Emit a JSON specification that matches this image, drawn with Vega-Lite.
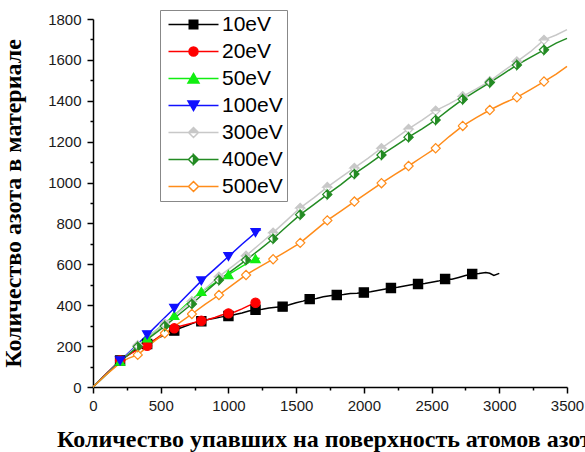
{
  "$schema": "https://vega.github.io/schema/vega-lite/v6.json",
  "width": 474,
  "height": 368,
  "autosize": {"type": "none"},
  "padding": {"left": 93, "top": 19, "right": 18, "bottom": 65},
  "background": "white",
  "config": {
    "view": {"stroke": null},
    "axis": {"grid": false, "format": "d", "labelFont": "Liberation Sans", "labelFontSize": 15, "labelColor": "#1a1a1a", "domainColor": "#000000", "domainWidth": 1.5, "tickColor": "#000000", "tickWidth": 1.5, "titleFont": "Liberation Serif", "titleFontWeight": "bold", "titleFontSize": 24, "titleColor": "#000000"}
  },
  "datasets": {
    "d": [
      {"s":"10eV","x":0,"y":0,"m":0},{"s":"10eV","x":50,"y":33,"m":0},{"s":"10eV","x":100,"y":66,"m":0},{"s":"10eV","x":150,"y":98,"m":0},{"s":"10eV","x":200,"y":130,"m":1},{"s":"10eV","x":250,"y":152,"m":0},{"s":"10eV","x":300,"y":175,"m":0},{"s":"10eV","x":350,"y":193,"m":0},{"s":"10eV","x":400,"y":210,"m":1},{"s":"10eV","x":450,"y":228,"m":0},{"s":"10eV","x":500,"y":246,"m":0},{"s":"10eV","x":550,"y":262,"m":0},{"s":"10eV","x":600,"y":276,"m":1},{"s":"10eV","x":650,"y":290,"m":0},{"s":"10eV","x":700,"y":302,"m":0},{"s":"10eV","x":750,"y":315,"m":0},{"s":"10eV","x":800,"y":322,"m":1},{"s":"10eV","x":850,"y":330,"m":0},{"s":"10eV","x":900,"y":336,"m":0},{"s":"10eV","x":950,"y":343,"m":0},{"s":"10eV","x":1000,"y":347,"m":1},{"s":"10eV","x":1050,"y":355,"m":0},{"s":"10eV","x":1100,"y":362,"m":0},{"s":"10eV","x":1150,"y":372,"m":0},{"s":"10eV","x":1200,"y":378,"m":1},{"s":"10eV","x":1250,"y":380,"m":0},{"s":"10eV","x":1300,"y":386,"m":0},{"s":"10eV","x":1350,"y":390,"m":0},{"s":"10eV","x":1400,"y":393,"m":1},{"s":"10eV","x":1450,"y":402,"m":0},{"s":"10eV","x":1500,"y":412,"m":0},{"s":"10eV","x":1550,"y":420,"m":0},{"s":"10eV","x":1600,"y":430,"m":1},{"s":"10eV","x":1650,"y":433,"m":0},{"s":"10eV","x":1700,"y":441,"m":0},{"s":"10eV","x":1750,"y":446,"m":0},{"s":"10eV","x":1800,"y":450,"m":1},{"s":"10eV","x":1850,"y":452,"m":0},{"s":"10eV","x":1900,"y":457,"m":0},{"s":"10eV","x":1950,"y":458,"m":0},{"s":"10eV","x":2000,"y":462,"m":1},{"s":"10eV","x":2050,"y":466,"m":0},{"s":"10eV","x":2100,"y":472,"m":0},{"s":"10eV","x":2150,"y":478,"m":0},{"s":"10eV","x":2200,"y":484,"m":1},{"s":"10eV","x":2250,"y":488,"m":0},{"s":"10eV","x":2300,"y":494,"m":0},{"s":"10eV","x":2350,"y":500,"m":0},{"s":"10eV","x":2400,"y":504,"m":1},{"s":"10eV","x":2450,"y":506,"m":0},{"s":"10eV","x":2500,"y":512,"m":0},{"s":"10eV","x":2550,"y":518,"m":0},{"s":"10eV","x":2600,"y":528,"m":1},{"s":"10eV","x":2650,"y":527,"m":0},{"s":"10eV","x":2700,"y":536,"m":0},{"s":"10eV","x":2750,"y":545,"m":0},{"s":"10eV","x":2800,"y":553,"m":1},{"s":"10eV","x":2850,"y":555,"m":0},{"s":"10eV","x":2900,"y":560,"m":0},{"s":"10eV","x":2930,"y":556,"m":0},{"s":"10eV","x":2960,"y":546,"m":0},{"s":"10eV","x":3000,"y":556,"m":0},
      {"s":"20eV","x":0,"y":0,"m":0},{"s":"20eV","x":50,"y":33,"m":0},{"s":"20eV","x":100,"y":66,"m":0},{"s":"20eV","x":150,"y":98,"m":0},{"s":"20eV","x":200,"y":130,"m":1},{"s":"20eV","x":250,"y":152,"m":0},{"s":"20eV","x":300,"y":172,"m":0},{"s":"20eV","x":350,"y":188,"m":0},{"s":"20eV","x":400,"y":202,"m":1},{"s":"20eV","x":450,"y":228,"m":0},{"s":"20eV","x":500,"y":252,"m":0},{"s":"20eV","x":550,"y":272,"m":0},{"s":"20eV","x":600,"y":287,"m":1},{"s":"20eV","x":650,"y":298,"m":0},{"s":"20eV","x":700,"y":307,"m":0},{"s":"20eV","x":750,"y":316,"m":0},{"s":"20eV","x":800,"y":324,"m":1},{"s":"20eV","x":850,"y":330,"m":0},{"s":"20eV","x":900,"y":340,"m":0},{"s":"20eV","x":950,"y":352,"m":0},{"s":"20eV","x":1000,"y":360,"m":1},{"s":"20eV","x":1050,"y":368,"m":0},{"s":"20eV","x":1100,"y":382,"m":0},{"s":"20eV","x":1150,"y":398,"m":0},{"s":"20eV","x":1200,"y":412,"m":1},{"s":"20eV","x":1215,"y":414,"m":0},
      {"s":"50eV","x":0,"y":0,"m":0},{"s":"50eV","x":100,"y":64,"m":0},{"s":"50eV","x":200,"y":126,"m":1},{"s":"50eV","x":300,"y":184,"m":0},{"s":"50eV","x":400,"y":240,"m":1},{"s":"50eV","x":500,"y":295,"m":0},{"s":"50eV","x":600,"y":350,"m":1},{"s":"50eV","x":700,"y":410,"m":0},{"s":"50eV","x":800,"y":467,"m":1},{"s":"50eV","x":900,"y":508,"m":0},{"s":"50eV","x":1000,"y":550,"m":1},{"s":"50eV","x":1100,"y":590,"m":0},{"s":"50eV","x":1200,"y":628,"m":1},{"s":"50eV","x":1230,"y":630,"m":0},
      {"s":"100eV","x":0,"y":0,"m":0},{"s":"100eV","x":100,"y":64,"m":0},{"s":"100eV","x":200,"y":128,"m":1},{"s":"100eV","x":300,"y":190,"m":0},{"s":"100eV","x":400,"y":255,"m":1},{"s":"100eV","x":500,"y":320,"m":0},{"s":"100eV","x":600,"y":385,"m":1},{"s":"100eV","x":700,"y":452,"m":0},{"s":"100eV","x":800,"y":519,"m":1},{"s":"100eV","x":900,"y":578,"m":0},{"s":"100eV","x":1000,"y":638,"m":1},{"s":"100eV","x":1100,"y":698,"m":0},{"s":"100eV","x":1200,"y":755,"m":1},{"s":"100eV","x":1240,"y":770,"m":0},
      {"s":"300eV","x":0,"y":0,"m":0},{"s":"300eV","x":100,"y":62,"m":0},{"s":"300eV","x":200,"y":125,"m":0},{"s":"300eV","x":330,"y":205,"m":1},{"s":"300eV","x":430,"y":258,"m":0},{"s":"300eV","x":530,"y":310,"m":1},{"s":"300eV","x":630,"y":365,"m":0},{"s":"300eV","x":730,"y":420,"m":1},{"s":"300eV","x":830,"y":482,"m":0},{"s":"300eV","x":930,"y":540,"m":1},{"s":"300eV","x":1030,"y":590,"m":0},{"s":"300eV","x":1130,"y":642,"m":1},{"s":"300eV","x":1230,"y":698,"m":0},{"s":"300eV","x":1330,"y":755,"m":1},{"s":"300eV","x":1430,"y":815,"m":0},{"s":"300eV","x":1530,"y":876,"m":1},{"s":"300eV","x":1630,"y":925,"m":0},{"s":"300eV","x":1730,"y":978,"m":1},{"s":"300eV","x":1830,"y":1025,"m":0},{"s":"300eV","x":1930,"y":1072,"m":1},{"s":"300eV","x":2030,"y":1118,"m":0},{"s":"300eV","x":2130,"y":1168,"m":1},{"s":"300eV","x":2230,"y":1215,"m":0},{"s":"300eV","x":2330,"y":1262,"m":1},{"s":"300eV","x":2430,"y":1305,"m":0},{"s":"300eV","x":2530,"y":1352,"m":1},{"s":"300eV","x":2630,"y":1385,"m":0},{"s":"300eV","x":2730,"y":1422,"m":1},{"s":"300eV","x":2830,"y":1458,"m":0},{"s":"300eV","x":2930,"y":1496,"m":1},{"s":"300eV","x":3030,"y":1545,"m":0},{"s":"300eV","x":3130,"y":1592,"m":1},{"s":"300eV","x":3230,"y":1640,"m":0},{"s":"300eV","x":3330,"y":1698,"m":1},{"s":"300eV","x":3420,"y":1722,"m":0},{"s":"300eV","x":3500,"y":1748,"m":0},
      {"s":"400eV","x":0,"y":0,"m":0},{"s":"400eV","x":100,"y":62,"m":0},{"s":"400eV","x":200,"y":125,"m":0},{"s":"400eV","x":330,"y":197,"m":1},{"s":"400eV","x":430,"y":248,"m":0},{"s":"400eV","x":530,"y":298,"m":1},{"s":"400eV","x":630,"y":352,"m":0},{"s":"400eV","x":730,"y":406,"m":1},{"s":"400eV","x":830,"y":465,"m":0},{"s":"400eV","x":930,"y":523,"m":1},{"s":"400eV","x":1030,"y":572,"m":0},{"s":"400eV","x":1130,"y":621,"m":1},{"s":"400eV","x":1230,"y":672,"m":0},{"s":"400eV","x":1330,"y":725,"m":1},{"s":"400eV","x":1430,"y":785,"m":0},{"s":"400eV","x":1530,"y":843,"m":1},{"s":"400eV","x":1630,"y":892,"m":0},{"s":"400eV","x":1730,"y":942,"m":1},{"s":"400eV","x":1830,"y":990,"m":0},{"s":"400eV","x":1930,"y":1042,"m":1},{"s":"400eV","x":2030,"y":1088,"m":0},{"s":"400eV","x":2130,"y":1135,"m":1},{"s":"400eV","x":2230,"y":1178,"m":0},{"s":"400eV","x":2330,"y":1222,"m":1},{"s":"400eV","x":2430,"y":1262,"m":0},{"s":"400eV","x":2530,"y":1306,"m":1},{"s":"400eV","x":2630,"y":1358,"m":0},{"s":"400eV","x":2730,"y":1407,"m":1},{"s":"400eV","x":2830,"y":1448,"m":0},{"s":"400eV","x":2930,"y":1489,"m":1},{"s":"400eV","x":3030,"y":1532,"m":0},{"s":"400eV","x":3130,"y":1575,"m":1},{"s":"400eV","x":3230,"y":1612,"m":0},{"s":"400eV","x":3330,"y":1649,"m":1},{"s":"400eV","x":3420,"y":1682,"m":0},{"s":"400eV","x":3500,"y":1705,"m":0},
      {"s":"500eV","x":0,"y":0,"m":0},{"s":"500eV","x":100,"y":62,"m":0},{"s":"500eV","x":200,"y":118,"m":0},{"s":"500eV","x":260,"y":140,"m":0},{"s":"500eV","x":330,"y":157,"m":1},{"s":"500eV","x":430,"y":212,"m":0},{"s":"500eV","x":530,"y":263,"m":1},{"s":"500eV","x":630,"y":310,"m":0},{"s":"500eV","x":730,"y":357,"m":1},{"s":"500eV","x":830,"y":405,"m":0},{"s":"500eV","x":930,"y":450,"m":1},{"s":"500eV","x":1030,"y":500,"m":0},{"s":"500eV","x":1130,"y":548,"m":1},{"s":"500eV","x":1230,"y":588,"m":0},{"s":"500eV","x":1330,"y":625,"m":1},{"s":"500eV","x":1430,"y":665,"m":0},{"s":"500eV","x":1530,"y":705,"m":1},{"s":"500eV","x":1630,"y":760,"m":0},{"s":"500eV","x":1730,"y":815,"m":1},{"s":"500eV","x":1830,"y":860,"m":0},{"s":"500eV","x":1930,"y":907,"m":1},{"s":"500eV","x":2030,"y":952,"m":0},{"s":"500eV","x":2130,"y":997,"m":1},{"s":"500eV","x":2230,"y":1040,"m":0},{"s":"500eV","x":2330,"y":1081,"m":1},{"s":"500eV","x":2430,"y":1125,"m":0},{"s":"500eV","x":2530,"y":1168,"m":1},{"s":"500eV","x":2630,"y":1225,"m":0},{"s":"500eV","x":2730,"y":1277,"m":1},{"s":"500eV","x":2830,"y":1318,"m":0},{"s":"500eV","x":2930,"y":1355,"m":1},{"s":"500eV","x":3030,"y":1388,"m":0},{"s":"500eV","x":3130,"y":1417,"m":1},{"s":"500eV","x":3230,"y":1455,"m":0},{"s":"500eV","x":3330,"y":1494,"m":1},{"s":"500eV","x":3420,"y":1530,"m":0},{"s":"500eV","x":3500,"y":1568,"m":0}
    ]
  },
  "data": {"name": "d"},
  "resolve": {"axis": {"x": "independent", "y": "independent"}},
  "layer": [
    {
      "mark": {"type": "line", "strokeWidth": 1.5},
      "encoding": {
        "x": {"field": "x", "type": "quantitative", "scale": {"domain": [0, 3500], "nice": false, "zero": false},
          "axis": {"orient": "bottom", "values": [0,500,1000,1500,2000,2500,3000,3500], "tickSize": 6, "labelPadding": 5, "labelFlush": false, "title": "Количество упавших на поверхность атомов азота", "titlePadding": 14}},
        "y": {"field": "y", "type": "quantitative", "scale": {"domain": [0, 1800], "nice": false},
          "axis": {"orient": "left", "values": [0,200,400,600,800,1000,1200,1400,1600,1800], "tickSize": 6, "labelPadding": 6, "labelFlush": false, "title": "Количество азота в материале", "titlePadding": 22}},
        "color": {"field": "s", "type": "nominal",
          "legend": {
            "orient": "none", "legendX": 67, "legendY": -9, "title": null,
            "strokeColor": "#888888", "fillColor": "white", "padding": 4, "rowPadding": 5,
            "labelFont": "Liberation Sans", "labelFontSize": 21, "labelColor": "#000000",
            "symbolSize": 100, "symbolStrokeWidth": 1.5, "labelOffset": 37,
            "encode": {"symbols": {"update": {
              "shape": {"signal": "datum.value === '10eV' ? 'M-1.2,0H8.8M2.95,-0.85H4.65V0.85H2.95Z' : datum.value === '20eV' ? 'M-1.2,0H8.8M2.9,0A0.9,0.9 0 1,0 4.7,0A0.9,0.9 0 1,0 2.9,0Z' : datum.value === '50eV' ? 'M-1.2,0H8.8M3.8,-1L4.9,0.9H2.7Z' : datum.value === '100eV' ? 'M-1.2,0H8.8M2.7,-0.9H4.9L3.8,1Z' : datum.value === '300eV' ? 'M-1.2,0H2.8M4.8,0H8.8M2.8,0L3.8,-1L4.8,0ZM2.8,0L3.8,1L4.8,0L3.8,1Z' : datum.value === '400eV' ? 'M-1.2,0H2.8M4.8,0H8.8M3.8,-1L4.8,0L3.8,1ZM3.8,-1L2.8,0L3.8,1L2.8,0Z' : 'M-1.2,0H2.8M4.8,0H8.8M2.8,0L3.8,-1L4.8,0L3.8,1Z'"},
              "fill": {"signal": "datum.value === '500eV' ? 'white' : scale('color', datum.value)"},
              "stroke": {"signal": "scale('color', datum.value)"},
              "strokeWidth": {"value": 1.5},
              "opacity": {"value": 1}
            }}}
          },
          "scale": {"domain": ["10eV","20eV","50eV","100eV","300eV","400eV","500eV"], "range": ["#000000","#ff0000","#11ee11","#1010ff","#c8c8c8","#238b23","#ff8c1a"]}}
      }
    },
    {
      "transform": [{"filter": "datum.m == 1 && (datum.s == '300eV' || datum.s == '400eV' || datum.s == '500eV')"}],
      "mark": {"type": "point", "shape": "diamond", "filled": true, "fill": "white", "opacity": 1, "size": 85},
      "encoding": {
        "x": {"field": "x", "type": "quantitative", "axis": {"orient": "bottom", "values": [250,750,1250,1750,2250,2750,3250], "labels": false, "domain": false, "tickSize": 3, "title": null}},
        "y": {"field": "y", "type": "quantitative", "axis": {"orient": "left", "values": [100,300,500,700,900,1100,1300,1500,1700], "labels": false, "domain": false, "tickSize": 3, "title": null}}
      }
    },
    {
      "transform": [{"filter": "datum.m == 1"}],
      "mark": {"type": "point", "filled": false, "opacity": 1, "size": 85, "strokeWidth": 1.2},
      "encoding": {
        "x": {"field": "x", "type": "quantitative", "axis": null},
        "y": {"field": "y", "type": "quantitative", "axis": null},
        "fill": {"field": "s", "type": "nominal", "legend": null,
          "scale": {"domain": ["500eV","400eV","300eV","100eV","50eV","20eV","10eV"], "range": ["#ff8c1a","#238b23","#c8c8c8","#1010ff","#11ee11","#ff0000","#000000"]}},
        "stroke": {"field": "s", "type": "nominal", "legend": null,
          "scale": {"domain": ["500eV","400eV","300eV","100eV","50eV","20eV","10eV"], "range": ["#ff8c1a","#238b23","#c8c8c8","#1010ff","#11ee11","#ff0000","#000000"]}},
        "shape": {"field": "s", "type": "nominal", "legend": null,
          "scale": {"domain": ["500eV","400eV","300eV","100eV","50eV","20eV","10eV"], "range": ["M-1,0L0,-1L1,0L0,1L-1,0L0,1L1,0L0,-1Z","M0,-1L1,0L0,1ZM0,-1L-1,0L0,1L-1,0Z","M-1,0L0,-1L1,0ZM-1,0L0,1L1,0L0,1Z","triangle-down","triangle-up","circle","square"]}}
      }
    }
  ]
}
